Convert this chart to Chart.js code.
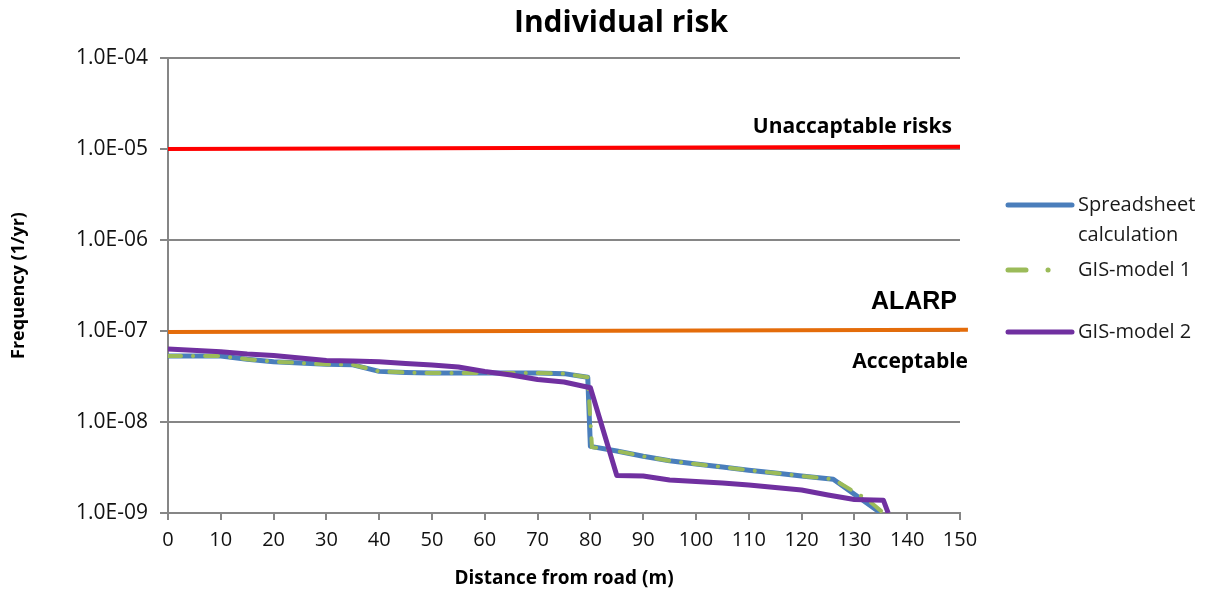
<!DOCTYPE html>
<html>
<head>
<meta charset="utf-8">
<title>Individual risk</title>
<script src="https://cdn.jsdelivr.net/npm/chart.js@4/dist/chart.umd.min.js"></script>
<style>
    html, body { margin: 0; padding: 0; background: #fff; }
    #wrap { position: relative; width: 1213px; height: 594px; }
</style>
</head>
<body>
<div id="wrap"><canvas id="riskChart" width="1213" height="594"></canvas></div>
<script>
// Данные: расстояние (м) и частота (1/год)
const chartTitle = 'Individual risk';
const yTicks = [1e-9, 1e-8, 1e-7, 1e-6, 1e-5, 1e-4];

const spreadsheetX = [0, 10, 15, 20, 25, 30, 35, 40, 45, 50, 55, 60, 65, 70, 75, 79.5, 80, 85, 90, 95, 100, 105, 110, 115, 120, 126, 135];
const spreadsheetY = [5.3e-8, 5.3e-8, 4.9e-8, 4.6e-8, 4.45e-8, 4.3e-8, 4.25e-8, 3.6e-8, 3.5e-8, 3.45e-8, 3.45e-8, 3.45e-8, 3.45e-8, 3.45e-8, 3.4e-8, 3.1e-8, 5.4e-9, 4.8e-9, 4.2e-9, 3.75e-9, 3.45e-9, 3.2e-9, 2.95e-9, 2.75e-9, 2.55e-9, 2.35e-9, 1.0e-9];

const gis1X = [0, 10, 15, 20, 25, 30, 35, 40, 45, 50, 55, 60, 65, 70, 75, 79.5, 80.3, 85, 90, 95, 100, 105, 110, 115, 120, 126, 132.5, 135.5];
const gis1Y = [5.3e-8, 5.3e-8, 4.9e-8, 4.6e-8, 4.45e-8, 4.3e-8, 4.25e-8, 3.6e-8, 3.5e-8, 3.45e-8, 3.45e-8, 3.45e-8, 3.45e-8, 3.45e-8, 3.4e-8, 3.1e-8, 5.3e-9, 4.8e-9, 4.2e-9, 3.75e-9, 3.45e-9, 3.2e-9, 2.95e-9, 2.75e-9, 2.55e-9, 2.35e-9, 1.4e-9, 1.0e-9];

const gis2X = [0, 10, 15, 20, 25, 30, 35, 40, 45, 50, 55, 60, 65, 70, 75, 80, 85, 90, 95, 100, 105, 110, 115, 120, 125, 130, 135.5, 136.4];
const gis2Y = [6.34e-8, 5.93e-8, 5.59e-8, 5.38e-8, 5.05e-8, 4.74e-8, 4.68e-8, 4.6e-8, 4.4e-8, 4.23e-8, 4.02e-8, 3.59e-8, 3.28e-8, 2.93e-8, 2.75e-8, 2.38e-8, 2.58e-9, 2.55e-9, 2.31e-9, 2.22e-9, 2.14e-9, 2.03e-9, 1.91e-9, 1.79e-9, 1.58e-9, 1.41e-9, 1.38e-9, 1.0e-9];

// Пороговые линии
const unacceptableX = [0, 150];
const unacceptableY = [1.0e-5, 1.06e-5];
const alarpX = [0, 151.5];
const alarpY = [9.75e-8, 1.03e-7];

const colors = {
    spreadsheet: '#4A7EBB',
    gis1: '#9BBB59',
    gis2: '#7030A0',
    unacceptable: '#FF0000',
    alarp: '#E46C0A',
    grid: '#868686',
    text: '#000000'
};

const gis1Dash = [13, 12, 0.1, 12];

const toPoints = (xs, ys) => xs.map((x, i) => ({ x: x, y: ys[i] }));

// Формат 1.0E-05
function formatExp(v) {
    const e = Math.round(Math.log10(v));
    const sign = e < 0 ? '-' : '+';
    return '1.0E' + sign + String(Math.abs(e)).padStart(2, '0');
}

// Заголовок, подписи зон и легенда
const overlayPlugin = {
    id: 'overlay',
    afterDraw(chart) {
        const { ctx, scales: { x, y } } = chart;
        ctx.save();
        ctx.fillStyle = colors.text;
        ctx.textBaseline = 'alphabetic';

        ctx.font = 'bold 30px "Open Sans"';
        ctx.textAlign = 'center';
        ctx.fillText(chartTitle, 621, 32);

        ctx.textAlign = 'right';
        ctx.font = 'bold 21px "Open Sans"';
        ctx.fillText('Unaccaptable risks', x.right - 8, y.getPixelForValue(1e-5) - 16);
        ctx.font = 'bold 25px "Liberation Sans"';
        ctx.fillText('ALARP', x.right - 3, y.getPixelForValue(1e-7) - 22);
        ctx.font = 'bold 21px "Open Sans"';
        ctx.fillText('Acceptable', x.right + 8, y.getPixelForValue(1e-7) + 37);

        // Легенда
        const lx0 = 1008, lx1 = 1072, tx = 1078;
        const items = [
            { color: colors.spreadsheet, width: 5, dash: [], lines: ['Spreadsheet', 'calculation'], y: 205 },
            { color: colors.gis1, width: 5, dash: [18, 22, 0.1, 40], lines: ['GIS-model 1'], y: 270 },
            { color: colors.gis2, width: 5, dash: [], lines: ['GIS-model 2'], y: 332 }
        ];
        ctx.textAlign = 'left';
        ctx.textBaseline = 'middle';
        ctx.font = '20px "Open Sans"';
        items.forEach(item => {
            ctx.beginPath();
            ctx.strokeStyle = item.color;
            ctx.lineWidth = item.width;
            ctx.lineCap = 'round';
            ctx.setLineDash(item.dash);
            ctx.moveTo(lx0, item.y);
            ctx.lineTo(lx1, item.y);
            ctx.stroke();
            ctx.setLineDash([]);
            ctx.fillStyle = '#1a1a1a';
            item.lines.forEach((t, i) => ctx.fillText(t, tx, item.y + i * 30));
        });
        ctx.restore();
    }
};

document.addEventListener('DOMContentLoaded', () => {
    Chart.defaults.font.family = '"Open Sans", sans-serif';
    Chart.defaults.color = colors.text;

    const canvas = document.getElementById('riskChart');
    // Первый набор рисуется поверх остальных
    new Chart(canvas.getContext('2d'), {
        type: 'line',
        data: {
            datasets: [
                {
                    label: 'GIS-model 2',
                    data: toPoints(gis2X, gis2Y),
                    borderColor: colors.gis2,
                    borderWidth: 5,
                    pointRadius: 0,
                    borderJoinStyle: 'round'
                },
                {
                    label: 'GIS-model 1',
                    data: toPoints(gis1X, gis1Y),
                    borderColor: colors.gis1,
                    borderWidth: 4,
                    borderDash: gis1Dash,
                    borderCapStyle: 'round',
                    pointRadius: 0
                },
                {
                    label: 'Spreadsheet calculation',
                    data: toPoints(spreadsheetX, spreadsheetY),
                    borderColor: colors.spreadsheet,
                    borderWidth: 5,
                    pointRadius: 0,
                    borderJoinStyle: 'round'
                },
                {
                    label: 'ALARP',
                    data: toPoints(alarpX, alarpY),
                    borderColor: colors.alarp,
                    borderWidth: 4,
                    pointRadius: 0,
                    clip: { left: 3, right: 10, top: 5, bottom: 5 }
                },
                {
                    label: 'Unacceptable',
                    data: toPoints(unacceptableX, unacceptableY),
                    borderColor: colors.unacceptable,
                    borderWidth: 4,
                    pointRadius: 0,
                    clip: { left: 3, right: 10, top: 5, bottom: 5 }
                }
            ]
        },
        options: {
            responsive: false,
            animation: false,
            layout: {
                padding: { top: 58, right: 253, bottom: 0, left: 0 }
            },
            plugins: {
                legend: { display: false },
                tooltip: { enabled: false },
                title: { display: false }
            },
            scales: {
                x: {
                    type: 'linear',
                    min: 0,
                    max: 150,
                    afterFit: (scale) => { scale.height = 81; },
                    ticks: {
                        stepSize: 10,
                        padding: 8,
                        font: { size: 20 },
                        color: '#111'
                    },
                    grid: {
                        drawOnChartArea: false,
                        drawTicks: true,
                        tickLength: 7,
                        tickColor: colors.grid,
                        lineWidth: 2
                    },
                    border: { color: colors.grid, width: 2 },
                    title: {
                        display: true,
                        text: 'Distance from road (m)',
                        font: { size: 19, weight: 'bold' },
                        padding: { top: 4, bottom: 4 }
                    }
                },
                y: {
                    type: 'logarithmic',
                    min: 1e-9,
                    max: 1e-4,
                    afterFit: (scale) => { scale.width = 168; },
                    afterBuildTicks: (axis) => {
                        axis.ticks = yTicks.map(v => ({ value: v, major: true }));
                    },
                    ticks: {
                        padding: 12,
                        font: { size: 21 },
                        color: '#111',
                        autoSkip: false,
                        callback: (v) => formatExp(v)
                    },
                    grid: {
                        color: colors.grid,
                        lineWidth: 2,
                        drawTicks: true,
                        tickLength: 8,
                        tickColor: colors.grid
                    },
                    border: { color: colors.grid, width: 2 },
                    title: {
                        display: true,
                        text: 'Frequency (1/yr)',
                        font: { size: 18, weight: 'bold' },
                        padding: { top: 8, bottom: 0 }
                    }
                }
            }
        },
        plugins: [overlayPlugin]
    });
});
</script>
</body>
</html>
